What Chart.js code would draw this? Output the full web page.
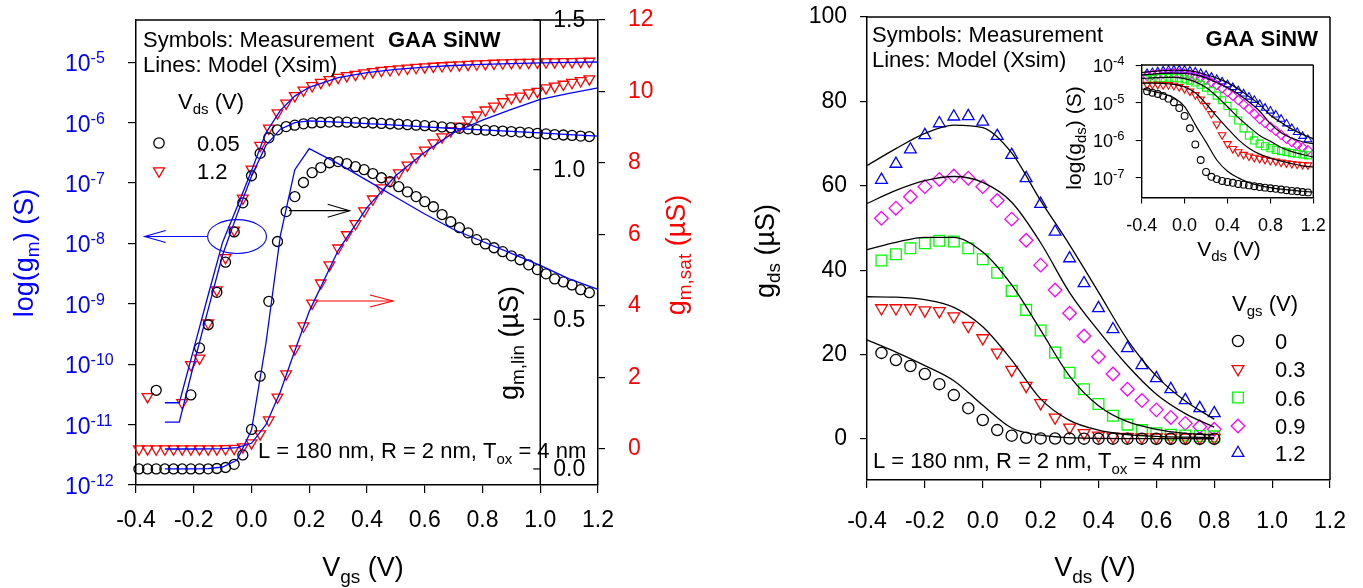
<!DOCTYPE html>
<html><head><meta charset="utf-8">
<script src="https://cdn.jsdelivr.net/npm/chart.js@4.4.0/dist/chart.umd.min.js"></script>
<style>
html,body{margin:0;padding:0;background:#fff;}
#wrap{position:relative;width:1363px;height:588px;overflow:hidden;background:#fff;}
canvas{position:absolute;}
</style></head><body>
<div id="wrap">
<canvas id="cL" style="left:0px;top:0px" width="700" height="588"></canvas>
<canvas id="cR" style="left:700px;top:0px" width="663" height="588"></canvas>
<canvas id="cI" style="left:1040px;top:40px" width="300" height="230"></canvas>
</div>
<script>
// ---------------- DATA: left panel (gm vs Vgs) ----------------
const VGS_MEAS = [-0.39,-0.36,-0.33,-0.30,-0.27,-0.24,-0.21,-0.18,-0.15,-0.12,-0.09,-0.06,-0.03,0.00,0.03,0.06,0.09,0.12,0.15,0.18,0.21,0.24,0.27,0.30,0.33,0.36,0.39,0.42,0.45,0.48,0.51,0.54,0.57,0.60,0.63,0.66,0.69,0.72,0.75,0.78,0.81,0.84,0.87,0.90,0.93,0.96,0.99,1.02,1.05,1.08,1.11,1.14,1.17];
// measured gm at Vds = 0.05 V (uS); non-positive values are not shown on the log axis
const GM_MEAS_VDS005 = [-2e-5,-1e-5,3.7e-5,-3e-5,-1e-5,-2e-5,3.1e-5,1.86e-4,4.5e-4,1.55e-3,4.9e-3,0.0155,0.047,0.132,0.31,0.56,0.76,0.86,0.91,0.957,0.99,1.007,1.023,1.027,1.02,1.01,1.0,0.987,0.973,0.96,0.943,0.926,0.91,0.893,0.876,0.85,0.826,0.806,0.789,0.766,0.752,0.739,0.726,0.712,0.699,0.682,0.666,0.652,0.635,0.625,0.615,0.599,0.589];
// measured gm at Vds = 1.2 V (uS)
const GM_MEAS_VDS12 = [-2e-5,2.9e-5,-1e-5,-2e-5,-1e-5,2.3e-5,9.8e-5,1.26e-4,4.8e-4,1.7e-3,5.8e-3,0.0166,0.056,0.17,0.42,0.81,1.45,2.1,2.8,3.44,4.08,4.64,5.15,5.62,5.99,6.3,6.66,6.99,7.3,7.5,7.72,7.94,8.17,8.36,8.56,8.73,8.9,9.03,9.2,9.34,9.48,9.59,9.71,9.82,9.87,9.96,10.0,10.1,10.15,10.2,10.25,10.3,10.35];
const VGS_MODEL = [-0.30,-0.25,-0.20,-0.15,-0.10,-0.05,0.00,0.05,0.10,0.15,0.20,0.30,0.40,0.50,0.60,0.70,0.80,0.90,1.00,1.10,1.20];
const GM_MODEL_VDS005 = [1.1e-5,1.1e-5,1.0e-4,8.1e-4,6.5e-3,0.03,0.13,0.42,0.78,1.0,1.07,1.02,0.964,0.908,0.852,0.80,0.76,0.72,0.68,0.635,0.60];
const GM_MODEL_VDS12 = [2.3e-5,2.3e-5,1.8e-4,1.4e-3,0.0105,0.04,0.16,0.68,1.6,2.75,3.85,5.55,6.75,7.65,8.3,8.85,9.2,9.5,9.78,9.95,10.1];
const LOG_TICK_EXP_L = [-12,-11,-10,-9,-8,-7,-6,-5];
const LIN_TICKS = [0.0,0.5,1.0,1.5];

// ---------------- DATA: right panel (gds vs Vds) ----------------
const VDS_MEAS = [-0.35,-0.30,-0.25,-0.20,-0.15,-0.10,-0.05,0.00,0.05,0.10,0.15,0.20,0.25,0.30,0.35,0.40,0.45,0.50,0.55,0.60,0.65,0.70,0.75,0.80,0.85,0.90,0.95,1.00,1.05,1.10,1.15];
const GDS_VGS_0  = [20.4,18.7,17.3,15.4,13.0,10.4,7.3,4.5,2.1,0.78,0.30,0.144,0.107,0.093,0.083,0.078,0.074,0.069,0.066,0.063,0.060,0.057,0.055,0.053,0.051,0.049,0.047,0.045,0.044,0.042,0.041];
const GDS_VGS_03 = [31.0,31.0,31.0,30.5,30.3,29.1,26.8,23.9,20.5,16.4,12.6,8.5,5.1,2.7,1.4,0.81,0.60,0.49,0.42,0.38,0.35,0.33,0.31,0.29,0.28,0.26,0.25,0.24,0.23,0.225,0.22];
const GDS_VGS_06 = [42.3,43.8,45.2,46.4,47.0,46.8,45.2,42.6,39.4,35.1,30.6,25.7,20.5,15.7,11.8,8.3,5.5,3.4,2.1,1.35,1.0,0.82,0.70,0.62,0.56,0.52,0.49,0.46,0.44,0.42,0.40];
const GDS_VGS_09 = [52.3,54.7,57.4,59.8,61.5,62.3,61.8,59.8,56.5,52.1,47.1,41.2,35.3,29.8,24.4,19.5,15.4,11.8,9.1,6.9,5.1,3.7,2.9,2.3,1.8,1.4,1.1,0.90,0.75,0.65,0.55];
const GDS_VGS_12 = [61.4,65.2,68.6,72.0,74.8,76.4,76.5,75.2,71.8,67.3,61.8,55.7,49.1,42.8,36.9,31.0,26.0,21.5,17.5,14.4,11.8,9.2,7.3,6.1,4.8,3.7,2.8,2.1,1.65,1.3,1.05];
const VDS_MODEL = [-0.4,-0.3,-0.2,-0.1,0.0,0.1,0.2,0.3,0.4,0.5,0.6,0.7,0.8,0.9,1.0,1.1,1.2];
const GDS_MOD_0  = [23.5,20.6,17.4,13.8,8.0,2.6,0.9,0.3,0.15,0.10,0.075,0.062,0.055,0.050,0.047,0.044,0.042];
const GDS_MOD_03 = [33.7,33.6,33.0,31.2,26.6,18.7,9.5,4.4,2.1,1.05,0.62,0.43,0.34,0.28,0.24,0.21,0.195];
const GDS_MOD_06 = [44.9,46.6,47.8,47.8,44.3,36.5,25.8,14.9,7.9,4.1,2.3,1.35,0.95,0.65,0.50,0.42,0.36];
const GDS_MOD_09 = [55.8,58.9,61.2,62.2,60.8,56.1,46.5,34.7,25.6,17.4,10.6,6.0,2.8,1.6,1.15,0.92,0.81];
const GDS_MOD_12 = [64.8,68.8,72.4,74.4,73.8,67.8,56.5,46.0,34.8,23.5,14.9,9.0,4.7,3.0,2.0,1.45,1.1];
const VGS_LABELS = ['0','0.3','0.6','0.9','1.2'];
const MAIN_LAST_MEAS = 23;   // main panel shows Vds up to 0.8 V
const MAIN_LAST_MOD = 12;
const LOG_TICK_EXP_I = [-7,-6,-5,-4];

// ---------------- STYLE ----------------
const FONT = "'Liberation Sans', Arial, Helvetica, sans-serif";
const BLUE = '#0000ff', RED = '#ff0000', GREEN = '#00ff00', MAG = '#ff00ff', BLACK = '#000000';
const uS = 1e-6;

function P(t, s, dy, b){ return {t:t, s:s, dy:dy||0, b:!!b}; }
function fontOf(p){ return (p.b?'bold ':'') + p.s + 'px ' + FONT; }
function drawRich(ctx, parts, x, y, o){
  o = o || {};
  ctx.save(); ctx.translate(x, y); if (o.rot) ctx.rotate(o.rot);
  let w = 0; for (const p of parts){ ctx.font = fontOf(p); w += ctx.measureText(p.t).width; }
  let cx = o.align === 'center' ? -w/2 : (o.align === 'right' ? -w : 0);
  ctx.fillStyle = o.color || BLACK; ctx.textAlign = 'left'; ctx.textBaseline = 'alphabetic';
  const vy = o.vshift || 0;
  for (const p of parts){ ctx.font = fontOf(p); ctx.fillText(p.t, cx, p.dy + vy); cx += ctx.measureText(p.t).width; }
  ctx.restore();
}
function seg(ctx, x1, y1, x2, y2){ ctx.beginPath(); ctx.moveTo(x1, y1); ctx.lineTo(x2, y2); ctx.stroke(); }
function arrow(ctx, x1, y, x2, color, hl, hw){
  ctx.save(); ctx.strokeStyle = color; ctx.lineWidth = 1.1;
  seg(ctx, x1, y, x2, y);
  const d = x2 > x1 ? -1 : 1;
  ctx.beginPath(); ctx.moveTo(x2 + d*hl, y - hw); ctx.lineTo(x2, y); ctx.lineTo(x2 + d*hl, y + hw); ctx.stroke();
  ctx.restore();
}
function marker(ctx, style, x, y, r, color, lw){
  ctx.save(); ctx.strokeStyle = color; ctx.lineWidth = lw || 1.3; ctx.beginPath();
  if (style === 'circle') ctx.arc(x, y, r, 0, 2*Math.PI);
  else if (style === 'triUp' || style === 'triDown'){
    const s = style === 'triUp' ? 1 : -1;
    for (let i = 0; i < 3; i++){ const a = i*2*Math.PI/3; const px = x + Math.sin(a)*r, py = y - s*Math.cos(a)*r; if (i) ctx.lineTo(px, py); else ctx.moveTo(px, py); }
    ctx.closePath();
  } else if (style === 'square'){ const h = r*Math.SQRT1_2; ctx.rect(x-h, y-h, 2*h, 2*h); }
  else if (style === 'diamond'){ ctx.moveTo(x-r, y); ctx.lineTo(x, y-r); ctx.lineTo(x+r, y); ctx.lineTo(x, y+r); ctx.closePath(); }
  ctx.stroke(); ctx.restore();
}
const fmt1 = v => (Math.abs(v) < 1e-9 ? 0 : v).toFixed(1);
const pts = (xs, ys, f) => xs.map((x, i) => ({x: x, y: f ? f(ys[i]) : ys[i]}));
const toLog = v => (v > 0 ? v*uS : null);
function zeroPad(s){ s.paddingLeft = 0; s.paddingRight = 0; s.paddingTop = 0; s.paddingBottom = 0; }

function measSet(label, xs, ys, axis, style, color, r, f){
  return { label: label, data: pts(xs, ys, f), yAxisID: axis, showLine: false,
    pointStyle: style === 'triDown' ? 'triangle' : style, pointRotation: style === 'triDown' ? 180 : 0,
    pointRadius: r, pointBorderColor: color, pointBackgroundColor: 'rgba(0,0,0,0)', pointBorderWidth: 1.3, clip: 10 };
}
function modelSet(label, xs, ys, axis, color, smooth, f, lw){
  return { label: label, data: pts(xs, ys, f), yAxisID: axis, showLine: true, pointRadius: 0,
    borderColor: color, borderWidth: lw || 1.3, fill: false, tension: 0,
    cubicInterpolationMode: smooth ? 'monotone' : 'default', clip: 10 };
}

// ---------------- LEFT PANEL ----------------
const leftDecor = {
  id: 'leftDecor',
  afterDraw(chart){
    const ctx = chart.ctx, a = chart.chartArea, xs = chart.scales.x, yl = chart.scales.yLog, yn = chart.scales.yLin, ys = chart.scales.ySat;
    ctx.save();
    ctx.strokeStyle = BLACK; ctx.lineWidth = 1.5;
    seg(ctx, a.left, a.top, a.right, a.top);
    // g_m,lin axis positioned at Vgs = 1.0
    const xa = xs.getPixelForValue(1.0);
    seg(ctx, xa, a.top, xa, a.bottom);
    ctx.lineWidth = 1.2;
    for (const v of LIN_TICKS){
      const y = yn.getPixelForValue(v);
      seg(ctx, xa - 7, y, xa, y);
      ctx.font = '23px ' + FONT; ctx.fillStyle = BLACK; ctx.textAlign = 'left'; ctx.textBaseline = 'middle';
      ctx.fillText(v.toFixed(1), xa + 13, y + 1);
    }
    // log axis labels 10^n
    for (const e of LOG_TICK_EXP_L){
      const y = yl.getPixelForValue(Math.pow(10, e));
      drawRich(ctx, [P('10', 23), P(String(e), 16, -8)], 65, y + 9, {color: BLUE});
    }
    // axis titles
    drawRich(ctx, [P('log(g', 27), P('m', 19, 6), P(') (S)', 27)], 23.5, 253, {rot: -Math.PI/2, align: 'center', vshift: 9.5, color: BLUE});
    drawRich(ctx, [P('g', 27), P('m,lin', 19, 6), P(' (\u00b5S)', 27)], 508.5, 343, {rot: -Math.PI/2, align: 'center', vshift: 9.5});
    drawRich(ctx, [P('g', 27), P('m,sat', 19, 6), P(' (\u00b5S)', 27)], 675, 255, {rot: -Math.PI/2, align: 'center', vshift: 9.5, color: RED});
    drawRich(ctx, [P('V', 27), P('gs', 19, 7), P(' (V)', 27)], 363, 576, {align: 'center'});
    // annotation texts
    drawRich(ctx, [P('Symbols: Measurement', 22)], 143, 47);
    drawRich(ctx, [P('GAA SiNW', 22, 0, true)], 388, 47);
    drawRich(ctx, [P('Lines: Model (Xsim)', 22)], 143, 72);
    drawRich(ctx, [P('V', 22), P('ds', 15, 5), P(' (V)', 22)], 178, 109);
    marker(ctx, 'circle', 159, 143, 5.2, BLACK);
    drawRich(ctx, [P('0.05', 22)], 197, 151);
    marker(ctx, 'triDown', 159, 171, 6.3, RED);
    drawRich(ctx, [P('1.2', 22)], 197, 179);
    drawRich(ctx, [P('L = 180 nm, R = 2 nm, T', 22), P('ox', 15, 6), P(' = 4 nm', 22)], 258, 458);
    // ellipse and arrows (in data coordinates)
    const ex = xs.getPixelForValue(-0.05), ey = yl.getPixelForValue(1.3e-8);
    const erx = xs.getPixelForValue(0.052) - ex, ery = yl.getPixelForValue(1.3e-8) - yl.getPixelForValue(1.3e-8*Math.pow(10, 0.28));
    ctx.strokeStyle = BLUE; ctx.lineWidth = 1.1;
    ctx.beginPath(); ctx.ellipse(ex, ey, erx, ery, 0, 0, 2*Math.PI); ctx.stroke();
    arrow(ctx, ex - erx, ey, xs.getPixelForValue(-0.37), BLUE, 21, 6);
    const by = yn.getPixelForValue(0.863);
    arrow(ctx, xs.getPixelForValue(0.13), by, xs.getPixelForValue(0.34), BLACK, 22, 6.5);
    const ry = ys.getPixelForValue(4.14);
    arrow(ctx, xs.getPixelForValue(0.227), ry, xs.getPixelForValue(0.49), RED, 23, 6);
    ctx.restore();
  }
};

new Chart(document.getElementById('cL'), {
  type: 'scatter',
  data: { datasets: [
    modelSet('model log 0.05', VGS_MODEL, GM_MODEL_VDS005, 'yLog', BLUE, false, toLog),
    modelSet('model log 1.2', VGS_MODEL, GM_MODEL_VDS12, 'yLog', BLUE, false, toLog),
    modelSet('model lin 0.05', VGS_MODEL, GM_MODEL_VDS005, 'yLin', BLUE, false),
    modelSet('model sat 1.2', VGS_MODEL, GM_MODEL_VDS12, 'ySat', BLUE, false),
    measSet('meas log 0.05', VGS_MEAS, GM_MEAS_VDS005, 'yLog', 'circle', BLACK, 5, toLog),
    measSet('meas log 1.2', VGS_MEAS, GM_MEAS_VDS12, 'yLog', 'triDown', RED, 6.2, toLog),
    measSet('meas lin 0.05', VGS_MEAS, GM_MEAS_VDS005, 'yLin', 'circle', BLACK, 5),
    measSet('meas sat 1.2', VGS_MEAS, GM_MEAS_VDS12, 'ySat', 'triDown', RED, 6.2)
  ]},
  options: {
    responsive: false, animation: false, devicePixelRatio: 1,
    layout: { padding: { top: 20, left: 0, right: 0, bottom: 0 } },
    plugins: { legend: { display: false }, tooltip: { enabled: false } },
    scales: {
      x: { type: 'linear', position: 'bottom', min: -0.4, max: 1.2,
        ticks: { stepSize: 0.2, includeBounds: false, autoSkip: false, maxRotation: 0, color: BLACK, font: { family: FONT, size: 23 }, padding: 14, callback: fmt1 },
        grid: { drawOnChartArea: false, tickLength: 8, color: BLACK, lineWidth: 1.2 },
        border: { color: BLACK, width: 1.5 },
        afterFit: s => { s.height = 103; zeroPad(s); } },
      yLog: { type: 'logarithmic', position: 'left', min: 1e-12, max: Math.pow(10, -4.3),
        afterBuildTicks: s => { s.ticks = LOG_TICK_EXP_L.map(e => ({ value: Math.pow(10, e) })); },
        ticks: { display: false },
        grid: { drawOnChartArea: false, tickLength: 8, color: BLACK, lineWidth: 1.2 },
        border: { color: BLACK, width: 1.5 },
        afterFit: s => { s.width = 136; zeroPad(s); } },
      yLin: { type: 'linear', display: false, min: -0.0536, max: 1.5 },
      ySat: { type: 'linear', position: 'right', min: -1.007, max: 12,
        ticks: { stepSize: 2, includeBounds: false, color: RED, font: { family: FONT, size: 23 }, padding: 23 },
        grid: { drawOnChartArea: false, tickLength: 7, color: BLACK, lineWidth: 1.2 },
        border: { color: BLACK, width: 1.5 },
        afterFit: s => { s.width = 102; zeroPad(s); } }
    }
  },
  plugins: [leftDecor]
});

// ---------------- RIGHT PANEL ----------------
const SERIES = [
  { label: VGS_LABELS[0], meas: GDS_VGS_0,  mod: GDS_MOD_0,  style: 'circle',  color: BLACK, r: 5.6, ri: 3.4 },
  { label: VGS_LABELS[1], meas: GDS_VGS_03, mod: GDS_MOD_03, style: 'triDown', color: RED,   r: 6.8, ri: 4.4 },
  { label: VGS_LABELS[2], meas: GDS_VGS_06, mod: GDS_MOD_06, style: 'rect',    color: GREEN, r: 7.6, ri: 5.0 },
  { label: VGS_LABELS[3], meas: GDS_VGS_09, mod: GDS_MOD_09, style: 'rectRot', color: MAG,   r: 6.8, ri: 4.6 },
  { label: VGS_LABELS[4], meas: GDS_VGS_12, mod: GDS_MOD_12, style: 'triangle',color: BLUE,  r: 6.8, ri: 4.4 }
];
const LEG_STYLE = { circle: 'circle', triDown: 'triDown', rect: 'square', rectRot: 'diamond', triangle: 'triUp' };

const rightDecor = {
  id: 'rightDecor',
  afterDraw(chart){
    const ctx = chart.ctx, a = chart.chartArea;
    ctx.save();
    ctx.strokeStyle = BLACK; ctx.lineWidth = 1.5;
    seg(ctx, a.left, a.top, a.right, a.top);
    seg(ctx, a.right, a.top, a.right, a.bottom);
    drawRich(ctx, [P('g', 27), P('ds', 19, 6), P(' (\u00b5S)', 27)], 64.5, 251, {rot: -Math.PI/2, align: 'center', vshift: 9.5});
    drawRich(ctx, [P('V', 27), P('ds', 19, 7), P(' (V)', 27)], 395, 576, {align: 'center'});
    drawRich(ctx, [P('Symbols: Measurement', 22)], 172, 42);
    drawRich(ctx, [P('Lines: Model (Xsim)', 22)], 172, 67);
    drawRich(ctx, [P('GAA SiNW', 22, 0, true)], 618, 46, {align: 'right'});
    drawRich(ctx, [P('L = 180 nm, R = 2 nm, T', 22), P('ox', 15, 6), P(' = 4 nm', 22)], 173, 468);
    drawRich(ctx, [P('V', 22), P('gs', 15, 5), P(' (V)', 22)], 532, 311);
    const ly = [341, 369, 397.5, 426, 453];
    SERIES.forEach((s, i) => {
      marker(ctx, LEG_STYLE[s.style], 538, ly[i], s.r, s.color);
      drawRich(ctx, [P(s.label, 22)], 575, ly[i] + 8);
    });
    ctx.restore();
  }
};

const rightSets = [];
SERIES.forEach(s => rightSets.push(modelSet('model ' + s.label, VDS_MODEL.slice(0, MAIN_LAST_MOD + 1), s.mod.slice(0, MAIN_LAST_MOD + 1), 'y', BLACK, true)));
SERIES.forEach(s => rightSets.push(measSet('meas ' + s.label, VDS_MEAS.slice(0, MAIN_LAST_MEAS + 1), s.meas.slice(0, MAIN_LAST_MEAS + 1), 'y', s.style, s.color, s.r)));

new Chart(document.getElementById('cR'), {
  type: 'scatter',
  data: { datasets: rightSets },
  options: {
    responsive: false, animation: false, devicePixelRatio: 1,
    layout: { padding: { top: 17, left: 0, right: 33, bottom: 0 } },
    plugins: { legend: { display: false }, tooltip: { enabled: false } },
    scales: {
      x: { type: 'linear', position: 'bottom', min: -0.4, max: 1.2,
        ticks: { stepSize: 0.2, includeBounds: false, autoSkip: false, maxRotation: 0, color: BLACK, font: { family: FONT, size: 23 }, padding: 20, callback: fmt1 },
        grid: { drawOnChartArea: false, tickLength: 8, color: BLACK, lineWidth: 1.2 },
        border: { color: BLACK, width: 1.5 },
        afterFit: s => { s.height = 108; zeroPad(s); } },
      y: { type: 'linear', position: 'left', min: -9.72, max: 100,
        ticks: { stepSize: 20, includeBounds: false, color: BLACK, font: { family: FONT, size: 23 }, padding: 13 },
        grid: { drawOnChartArea: false, tickLength: 7, color: BLACK, lineWidth: 1.2 },
        border: { color: BLACK, width: 1.5 },
        afterFit: s => { s.width = 167; zeroPad(s); } }
    }
  },
  plugins: [rightDecor]
});

// ---------------- INSET (log gds) ----------------
const insetDecor = {
  id: 'insetDecor',
  afterDraw(chart){
    const ctx = chart.ctx, a = chart.chartArea, yl = chart.scales.y;
    ctx.save();
    ctx.strokeStyle = BLACK; ctx.lineWidth = 1.4;
    seg(ctx, a.left, a.top, a.right, a.top);
    seg(ctx, a.right, a.top, a.right, a.bottom);
    for (const e of LOG_TICK_EXP_I){
      const y = yl.getPixelForValue(Math.pow(10, e));
      drawRich(ctx, [P('10', 18), P(String(e), 13, -7)], 53, y + 7);
    }
    drawRich(ctx, [P('log(g', 21), P('ds', 15, 5), P(') (S)', 21)], 33, 98, {rot: -Math.PI/2, align: 'center', vshift: 7.5});
    drawRich(ctx, [P('V', 21), P('ds', 15, 5), P(' (V)', 21)], 189, 216, {align: 'center'});
    ctx.restore();
  }
};
const insetSets = [];
SERIES.forEach(s => insetSets.push(modelSet('model ' + s.label, VDS_MODEL, s.mod, 'y', BLACK, true, toLog, 1.2)));
SERIES.forEach(s => { const d = measSet('meas ' + s.label, VDS_MEAS, s.meas, 'y', s.style, s.color, s.ri, toLog); d.pointBorderWidth = 1.1; insetSets.push(d); });

new Chart(document.getElementById('cI'), {
  type: 'scatter',
  data: { datasets: insetSets },
  options: {
    responsive: false, animation: false, devicePixelRatio: 1,
    layout: { padding: { top: 25, left: 0, right: 26.7, bottom: 0 } },
    plugins: { legend: { display: false }, tooltip: { enabled: false } },
    scales: {
      x: { type: 'linear', position: 'bottom', min: -0.4, max: 1.2,
        ticks: { stepSize: 0.4, includeBounds: false, autoSkip: false, maxRotation: 0, color: BLACK, font: { family: FONT, size: 18 }, padding: 12, callback: fmt1 },
        grid: { drawOnChartArea: false, tickLength: 6, color: BLACK, lineWidth: 1.1 },
        border: { color: BLACK, width: 1.4 },
        afterFit: s => { s.height = 72.5; zeroPad(s); } },
      y: { type: 'logarithmic', position: 'left', min: 3.13e-8, max: 1.026e-4,
        afterBuildTicks: s => { s.ticks = LOG_TICK_EXP_I.map(e => ({ value: Math.pow(10, e) })); },
        ticks: { display: false },
        grid: { drawOnChartArea: false, tickLength: 6, color: BLACK, lineWidth: 1.1 },
        border: { color: BLACK, width: 1.4 },
        afterFit: s => { s.width = 101.7; zeroPad(s); } }
    }
  },
  plugins: [insetDecor]
});
</script>
</body></html>
